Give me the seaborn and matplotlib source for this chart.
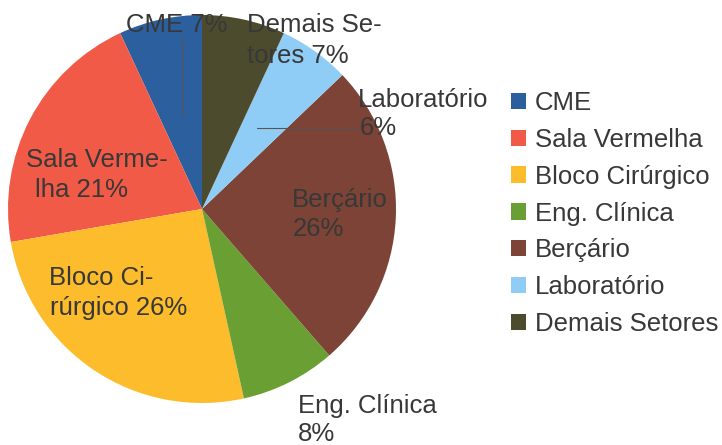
import matplotlib
matplotlib.use("Agg")
import matplotlib.pyplot as plt
import seaborn as sns
from matplotlib.lines import Line2D

categories = ["CME", "Sala Vermelha", "Bloco Cirúrgico", "Eng. Clínica",
              "Berçário", "Laboratório", "Demais Setores"]
values = [7, 21, 26, 8, 26, 6, 7]
slice_labels = [["CME 7%"], ["Sala Verme-", "lha 21%"], ["Bloco Ci-", "rúrgico 26%"],
                ["Eng. Clínica", "8%"], ["Berçário", "26%"], ["Laboratório", "6%"],
                ["Demais Se-", "tores 7%"]]
colors = ["#2c5f9e", "#f05a46", "#fcbc2c", "#6aa033", "#7c4336", "#8fcdf6", "#4d4b2d"]

sns.set_theme(style="white")
plt.rcParams["font.family"] = ["Liberation Sans", "DejaVu Sans"]

W, H = 722, 445
fig = plt.figure(figsize=(W / 100, H / 100), dpi=100)
cx, cy, r = 202, 209, 194
ax = fig.add_axes([(cx - r) / W, (H - cy - r) / H, 2 * r / W, 2 * r / H])
palette = sns.color_palette(colors)
wedges, _ = ax.pie(values, colors=palette, startangle=90, counterclock=True,
                   wedgeprops=dict(linewidth=0))
ax.set_xlim(-1, 1)
ax.set_ylim(-1, 1)
ax.set_aspect("equal")
ax.axis("off")

def px(x, y):
    return x / W, 1 - y / H

txt_color = "#383838"
fs = 18.5
# label positions (left x, baseline y) in pixels
label_pos = {
    0: [(126, 32)],
    1: [(26, 167), (35, 197)],
    2: [(49, 285), (50, 315)],
    3: [(298, 413), (298, 441)],
    4: [(292, 207), (293, 236)],
    5: [(358, 107), (360, 135)],
    6: [(247, 32), (247, 63)],
}
for i, lines in enumerate(slice_labels):
    for line, (x, y) in zip(lines, label_pos[i]):
        fig.text(*px(x, y), line, fontsize=fs, color=txt_color,
                 ha="left", va="baseline")

# leader lines
fig.add_artist(Line2D([182 / W, 182 / W], [1 - 38 / H, 1 - 115 / H],
                      color="#555555", linewidth=0.8))
fig.add_artist(Line2D([257 / W, 358 / W], [1 - 128 / H, 1 - 128 / H],
                      color="#555555", linewidth=0.8))

fig.legend(wedges, categories, loc="upper left",
           bbox_to_anchor=px(511, 91), frameon=False, fontsize=fs,
           borderpad=0, borderaxespad=0, labelspacing=0.5,
           handlelength=0.6, handleheight=0.6, handletextpad=0.32,
           labelcolor=txt_color)

fig.savefig("out.png", dpi=100)
